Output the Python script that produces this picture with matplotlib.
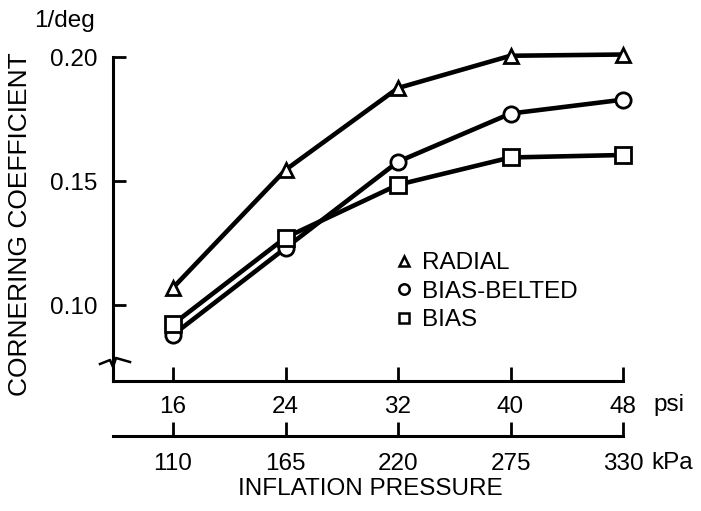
import matplotlib

matplotlib.use("Agg")

import matplotlib.pyplot as plt  # noqa: E402
from matplotlib.lines import Line2D  # noqa: E402

# ── Data ─────────────────────────────────────────────────────────────────────
psi = [16, 24, 32, 40, 48]
kpa_labels = ["110", "165", "220", "275", "330"]
radial = [0.107, 0.1545, 0.1875, 0.2005, 0.201]
bias_belted = [0.088, 0.123, 0.1578, 0.1772, 0.1828]
bias = [0.0923, 0.1272, 0.1485, 0.1595, 0.1605]
y_ticks = [0.10, 0.15, 0.20]

plt.rcParams["font.family"] = ["Liberation Sans", "DejaVu Sans"]
FS = 17.5

W, H = 701, 511
fig = plt.figure(figsize=(W / 100, H / 100), dpi=100)
# axes box in pixels: x 113..623, y 57..381
ax = fig.add_axes([113 / W, (H - 381) / H, 510 / W, 324 / H])
ax.set_xlim(11.73, 48)
ax.set_ylim(0.0694, 0.20)

lw = 3.3
series = [
    (radial, "^", "RADIAL"),
    (bias_belted, "o", "BIAS-BELTED"),
    (bias, "s", "BIAS"),
]
for vals, mk, name in series:
    ax.plot(psi, vals, color="black", lw=lw, marker=mk, ms=10 if mk == "^" else 11,
            mfc="white", mec="black", mew=2.0, clip_on=False, zorder=3)

for side in ("top", "right"):
    ax.spines[side].set_visible(False)
for side in ("left", "bottom"):
    ax.spines[side].set_linewidth(2.2)

ax.set_yticks(y_ticks, labels=[f"{v:.2f}" for v in y_ticks])
ax.set_xticks(psi, labels=[str(p) for p in psi])
ax.tick_params(axis="y", direction="in", length=9, width=2.0, pad=11.5, labelsize=FS)
ax.tick_params(axis="x", direction="in", length=10, width=2.0, pad=11, labelsize=FS)

# second scale in kPa below the psi axis
sec = ax.secondary_xaxis(-55 / 324)
sec.set_xticks(psi, labels=kpa_labels)
sec.spines["bottom"].set_linewidth(2.2)
sec.tick_params(axis="x", direction="in", length=10, width=2.0, pad=12, labelsize=FS)

# axis break mark on the y axis
bx = [(p - 113) / 510 for p in (100, 110, 113, 116, 130)]
by = [(381 - p) / 324 for p in (364, 360, 367, 358, 362)]
ax.add_line(Line2D(bx, by, transform=ax.transAxes, color="black", lw=1.8, clip_on=False))

# legend
handles = [
    Line2D([], [], ls="none", marker=mk, ms=7.5, mfc="white", mec="black", mew=1.8, color="black")
    for _, mk, _ in series
]
ax.legend(handles, [s[2] for s in series], loc="upper left",
          bbox_to_anchor=((386 - 113) / 510, (381 - 240) / 324),
          frameon=False, handlelength=0.5, handletextpad=0.5, labelspacing=0.27,
          fontsize=FS, borderpad=0)

fig.text(64 / W, 1 - 21 / H, "1/deg", ha="center", va="center", fontsize=FS)
fig.text(20 / W, 1 - 224 / H, "CORNERING COEFFICIENT", rotation=90,
         ha="center", va="center", fontsize=19)
fig.text(669 / W, 1 - 405 / H, "psi", ha="center", va="center", fontsize=FS)
fig.text(672 / W, 1 - 463 / H, "kPa", ha="center", va="center", fontsize=FS)
fig.text(370 / W, 1 - 489 / H, "INFLATION PRESSURE", ha="center", va="center", fontsize=FS)

fig.savefig("out.png", dpi=100)
